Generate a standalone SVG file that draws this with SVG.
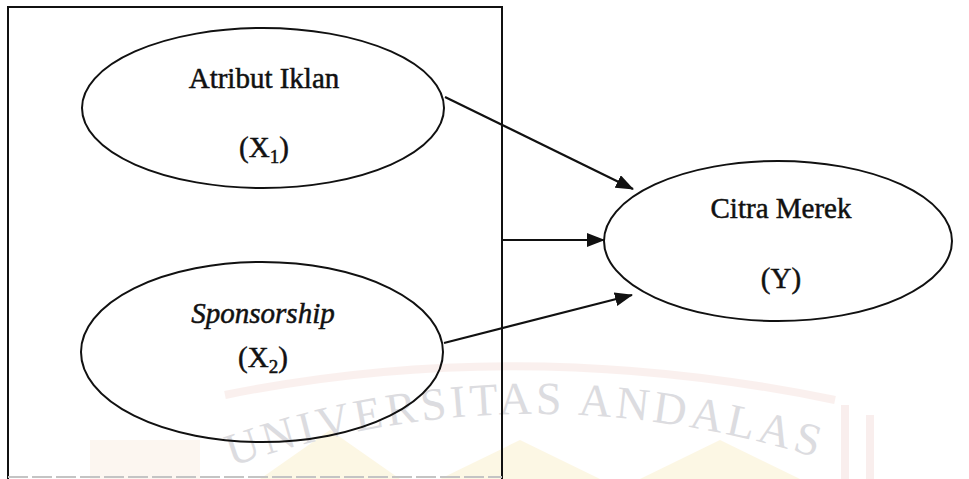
<svg xmlns="http://www.w3.org/2000/svg" width="969" height="479" viewBox="0 0 969 479">
<style>
.node ellipse{fill:none;stroke:#111;stroke-width:2}
.lbl{font-family:"Liberation Serif","Times New Roman",serif;font-size:29px;fill:#111;stroke:#111;stroke-width:0.5;text-anchor:middle}
.conn line{stroke:#111;stroke-width:2.2}
.frame{stroke:#111;stroke-width:2;fill:none}
</style>
<defs>
<marker id="ah" markerUnits="userSpaceOnUse" markerWidth="18" markerHeight="14" refX="17" refY="7" orient="auto">
<path d="M0,0 L18,7 L0,14 Z" fill="#111"/>
</marker>
<path id="wmarc" d="M 222 470 Q 520 362 830 462"/>
</defs>
<rect width="969" height="479" fill="#fff"/>
<g id="watermark">
<g opacity="0.3">
<path d="M 225 395 Q 520 335 835 400" fill="none" stroke="#f0cfc8" stroke-width="8"/>
<path d="M 845 405 L 845 479 M 870 415 L 870 479" stroke="#eccac4" stroke-width="8"/>
<path d="M 260 479 L 330 430 L 400 479 Z M 440 479 L 520 440 L 600 479 Z M 640 479 L 720 440 L 800 479 Z" fill="#f8e6a8"/>
<path d="M 90 440 L 200 440 L 200 479 L 90 479 Z" fill="#f6e2cf"/>
</g>
<text font-family="Liberation Serif, serif" font-size="46" fill="#dcdce0" textLength="595" lengthAdjust="spacing"><textPath href="#wmarc" startOffset="10">UNIVERSITAS ANDALAS</textPath></text>
</g>
<g id="frame">
<path class="frame" d="M 8 479 L 8 7 L 502 7 L 502 479"/>
<line x1="8" y1="477" x2="502" y2="477" stroke="#c4c4c4" stroke-width="2" stroke-dasharray="20 4"/>
</g>
<g id="connectors" class="conn">
<line x1="445" y1="97" x2="633" y2="189" marker-end="url(#ah)"/>
<line x1="502" y1="240" x2="604" y2="240" marker-end="url(#ah)"/>
<line x1="444" y1="343" x2="632" y2="295" marker-end="url(#ah)"/>
</g>
<g id="x1" class="node">
<ellipse cx="263" cy="108" rx="181" ry="80"/>
<text class="lbl" x="264" y="88">Atribut Iklan</text>
<text class="lbl" x="264" y="157">(X<tspan font-size="19" dy="6">1</tspan><tspan dy="-6">)</tspan></text>
</g>
<g id="x2" class="node">
<ellipse cx="262" cy="352" rx="181" ry="90"/>
<text class="lbl" x="263" y="323" font-style="italic">Sponsorship</text>
<text class="lbl" x="263" y="367">(X<tspan font-size="19" dy="6">2</tspan><tspan dy="-6">)</tspan></text>
</g>
<g id="y" class="node">
<ellipse cx="778" cy="241" rx="174" ry="80"/>
<text class="lbl" x="781" y="218">Citra Merek</text>
<text class="lbl" x="781" y="288">(Y)</text>
</g>
</svg>
